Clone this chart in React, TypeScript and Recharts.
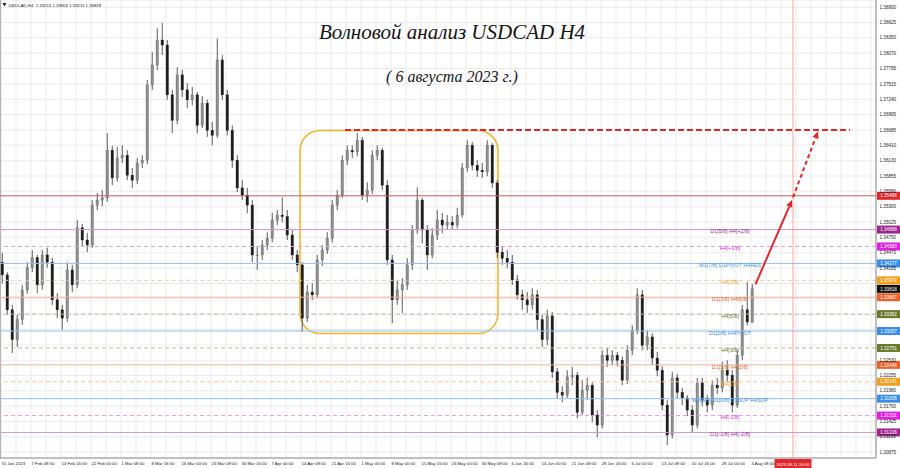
import React from "react";
import { ComposedChart, Bar, XAxis, YAxis, CartesianGrid, ReferenceLine, ReferenceArea } from "recharts";

// USDCAD H4 (one candle here ~ 5 px of the original)
const opens = [
  1.3430, 1.3407, 1.3344, 1.3290, 1.3326, 1.3380, 1.3420, 1.3438, 1.3389, 1.3443,
  1.3430, 1.3362, 1.3344, 1.3329, 1.3416, 1.3389, 1.3492, 1.3470, 1.3461, 1.3533,
  1.3542, 1.3546, 1.3632, 1.3582, 1.3618, 1.3623, 1.3587, 1.3578, 1.3609, 1.3614,
  1.3750, 1.3786, 1.3831, 1.3822, 1.3732, 1.3686, 1.3768, 1.3741, 1.3723, 1.3732,
  1.3677, 1.3717, 1.3668, 1.3659, 1.3795, 1.3732, 1.3668, 1.3614, 1.3564, 1.3551,
  1.3533, 1.3443, 1.3443, 1.3461, 1.3473, 1.3506, 1.3515, 1.3512, 1.3479, 1.3443,
  1.3425, 1.3329, 1.3376, 1.3371, 1.3434, 1.3452, 1.3473, 1.3533, 1.3551, 1.3614,
  1.3632, 1.3629, 1.3650, 1.3551, 1.3560, 1.3623, 1.3632, 1.3569, 1.3434, 1.3362,
  1.3380, 1.3389, 1.3425, 1.3488, 1.3542, 1.3488, 1.3443, 1.3479, 1.3506, 1.3497,
  1.3502, 1.3497, 1.3515, 1.3600, 1.3641, 1.3605, 1.3596, 1.3593, 1.3641, 1.3573,
  1.3448, 1.3437, 1.3430, 1.3398, 1.3371, 1.3362, 1.3353, 1.3371, 1.3326, 1.3290,
  1.3333, 1.3232, 1.3195, 1.3190, 1.3223, 1.3226, 1.3159, 1.3199, 1.3208, 1.3154,
  1.3136, 1.3262, 1.3253, 1.3262, 1.3253, 1.3217, 1.3271, 1.3307, 1.3371, 1.3280,
  1.3295, 1.3257, 1.3235, 1.3172, 1.3118, 1.3221, 1.3195, 1.3185, 1.3163, 1.3136,
  1.3212, 1.3181, 1.3172, 1.3208, 1.3203, 1.3235, 1.3226, 1.3172, 1.3262, 1.3344,
  1.33213,
];
const highs = [
  1.3447, 1.3412, 1.3353, 1.3335, 1.3389, 1.3430, 1.3452, 1.3443, 1.3452, 1.3456,
  1.3438, 1.3374, 1.3353, 1.3430, 1.3425, 1.3506, 1.3499, 1.3483, 1.3542, 1.3555,
  1.3560, 1.3663, 1.3640, 1.3638, 1.3641, 1.3632, 1.3600, 1.3618, 1.3623, 1.3759,
  1.3809, 1.3852, 1.3862, 1.3831, 1.3741, 1.3782, 1.3777, 1.3753, 1.3746, 1.3737,
  1.3730, 1.3723, 1.3683, 1.3834, 1.3804, 1.3741, 1.3677, 1.3623, 1.3578, 1.3564,
  1.3542, 1.3457, 1.3470, 1.3484, 1.3519, 1.3524, 1.3547, 1.3524, 1.3488, 1.3452,
  1.3430, 1.3389, 1.3392, 1.3443, 1.3461, 1.3484, 1.3542, 1.3560, 1.3623, 1.3641,
  1.3641, 1.3663, 1.3656, 1.3574, 1.3632, 1.3641, 1.3636, 1.3578, 1.3443, 1.3398,
  1.3401, 1.3437, 1.3497, 1.3565, 1.3546, 1.3497, 1.3491, 1.3524, 1.3519, 1.3515,
  1.3513, 1.3528, 1.3609, 1.3650, 1.3647, 1.3614, 1.3609, 1.3650, 1.3645, 1.3578,
  1.3459, 1.3452, 1.3443, 1.3407, 1.3380, 1.3376, 1.3383, 1.3380, 1.3335, 1.3344,
  1.3340, 1.3239, 1.3206, 1.3235, 1.3241, 1.3232, 1.3217, 1.3221, 1.3213, 1.3163,
  1.3271, 1.3275, 1.3271, 1.3268, 1.3260, 1.3280, 1.3316, 1.3383, 1.3380, 1.3307,
  1.3302, 1.3268, 1.3242, 1.3181, 1.3232, 1.3228, 1.3203, 1.3190, 1.3172, 1.3221,
  1.3221, 1.3190, 1.3217, 1.3221, 1.3250, 1.3253, 1.3235, 1.3271, 1.3353, 1.3394,
  1.33903,
];
const lows = [
  1.3392, 1.3335, 1.3266, 1.3277, 1.3317, 1.3373, 1.3412, 1.3374, 1.3380, 1.3420,
  1.3353, 1.3329, 1.3308, 1.3322, 1.3376, 1.3383, 1.3459, 1.3448, 1.3456, 1.3524,
  1.3531, 1.3539, 1.3569, 1.3575, 1.3609, 1.3578, 1.3564, 1.3571, 1.3600, 1.3607,
  1.3741, 1.3777, 1.3804, 1.3723, 1.3663, 1.3679, 1.3728, 1.3708, 1.3713, 1.3663,
  1.3672, 1.3656, 1.3641, 1.3654, 1.3723, 1.3659, 1.3600, 1.3556, 1.3542, 1.3518,
  1.3430, 1.3416, 1.3434, 1.3452, 1.3466, 1.3497, 1.3502, 1.3470, 1.3434, 1.3412,
  1.3304, 1.3322, 1.3362, 1.3365, 1.3423, 1.3445, 1.3466, 1.3524, 1.3546, 1.3605,
  1.3618, 1.3621, 1.3542, 1.3538, 1.3553, 1.3614, 1.3560, 1.3425, 1.3320, 1.3353,
  1.3338, 1.3380, 1.3416, 1.3481, 1.3464, 1.3416, 1.3437, 1.3470, 1.3482, 1.3488,
  1.3488, 1.3491, 1.3510, 1.3593, 1.3596, 1.3584, 1.3582, 1.3585, 1.3564, 1.3437,
  1.3425, 1.3419, 1.3389, 1.3362, 1.3344, 1.3338, 1.3344, 1.3308, 1.3277, 1.3280,
  1.3221, 1.3185, 1.3177, 1.3185, 1.3208, 1.3148, 1.3154, 1.3181, 1.3141, 1.3114,
  1.3130, 1.3241, 1.3244, 1.3242, 1.3208, 1.3210, 1.3262, 1.3300, 1.3271, 1.3271,
  1.3244, 1.3224, 1.3163, 1.3100, 1.3112, 1.3185, 1.3172, 1.3152, 1.3123, 1.3130,
  1.3170, 1.3159, 1.3163, 1.3192, 1.3195, 1.3214, 1.3159, 1.3167, 1.3253, 1.3316,
  1.33211,
];
const closes = [
  1.3407, 1.3344, 1.3290, 1.3326, 1.3380, 1.3420, 1.3438, 1.3389, 1.3443, 1.3430,
  1.3362, 1.3344, 1.3329, 1.3416, 1.3389, 1.3492, 1.3470, 1.3461, 1.3533, 1.3542,
  1.3546, 1.3632, 1.3582, 1.3618, 1.3623, 1.3587, 1.3578, 1.3609, 1.3614, 1.3750,
  1.3786, 1.3831, 1.3822, 1.3732, 1.3686, 1.3768, 1.3741, 1.3723, 1.3732, 1.3677,
  1.3717, 1.3668, 1.3659, 1.3795, 1.3732, 1.3668, 1.3614, 1.3564, 1.3551, 1.3533,
  1.3443, 1.3443, 1.3461, 1.3473, 1.3506, 1.3515, 1.3512, 1.3479, 1.3443, 1.3425,
  1.3329, 1.3376, 1.3371, 1.3434, 1.3452, 1.3473, 1.3533, 1.3551, 1.3614, 1.3632,
  1.3629, 1.3650, 1.3551, 1.3560, 1.3623, 1.3632, 1.3569, 1.3434, 1.3362, 1.3380,
  1.3389, 1.3425, 1.3488, 1.3542, 1.3488, 1.3443, 1.3479, 1.3506, 1.3497, 1.3502,
  1.3497, 1.3515, 1.3600, 1.3641, 1.3605, 1.3596, 1.3593, 1.3641, 1.3573, 1.3448,
  1.3437, 1.3430, 1.3398, 1.3371, 1.3362, 1.3353, 1.3371, 1.3326, 1.3290, 1.3333,
  1.3232, 1.3195, 1.3190, 1.3223, 1.3226, 1.3159, 1.3199, 1.3208, 1.3154, 1.3136,
  1.3262, 1.3253, 1.3262, 1.3253, 1.3217, 1.3271, 1.3307, 1.3371, 1.3280, 1.3295,
  1.3257, 1.3235, 1.3172, 1.3118, 1.3221, 1.3195, 1.3185, 1.3163, 1.3136, 1.3212,
  1.3181, 1.3172, 1.3208, 1.3203, 1.3235, 1.3226, 1.3172, 1.3262, 1.3344, 1.3322,
  1.33818,
];

const timeLabels = [
  "31 Jan 2023", "7 Feb 08:00", "14 Feb 16:00", "22 Feb 00:00", "1 Mar 08:00", "8 Mar 16:00",
  "16 Mar 00:00", "23 Mar 08:00", "30 Mar 16:00", "7 Apr 00:00", "14 Apr 08:00", "21 Apr 16:00",
  "1 May 00:00", "8 May 00:00", "15 May 16:00", "23 May 00:00", "30 May 08:00", "6 Jun 16:00",
  "14 Jun 00:00", "21 Jun 08:00", "28 Jun 16:00", "6 Jul 00:00", "13 Jul 08:00", "20 Jul 16:00",
  "28 Jul 00:00", "4 Aug 08:00",
];

const priceTicks = [
  1.389, 1.38625, 1.3835, 1.3807, 1.37795, 1.37515, 1.3724, 1.36965, 1.36685, 1.3641,
  1.3613, 1.35855, 1.3558, 1.353, 1.35025, 1.3475, 1.3447, 1.34195, 1.33915, 1.3364,
  1.3336, 1.33085, 1.32805, 1.3253, 1.32255, 1.3198, 1.317, 1.31425, 1.3115, 1.30875,
];

// murrey / pivot levels
const levelPrices = [
  1.35498, 1.34888, 1.34583, 1.34277, 1.33972, 1.33667, 1.33362,
  1.33057, 1.32751, 1.32446, 1.32141, 1.31836, 1.31531, 1.31226,
];
const levelNames = [
  "", "D1[5/8] H4[+2/8]", "H4[+1/8]", "W1[7/8] D1PIVOT H4RES", "H4[7/8]", "D1[3/8] H4[6/8]", "H4[5/8]",
  "D1[2/8] H4PIVOT", "H4[3/8]", "D1[1/8] H4[2/8]", "H4[1/8]", "W1[6/8] D1[0/8] D1SUP H4SUP", "H4[-1/8]", "D1[-1/8] H4[-2/8]",
];

const lastPrice = 1.33818;
const targetPrice = 1.36685;
const targetBars = [68.5, 169.5];
const forecastBars = [150.6, 157.9, 158.1, 163.1];
const forecastPrices = [1.339, 1.3542, 1.3547, 1.3666];
const rangeBars = [59.5, 99.1];
const rangePrices = [1.33012, 1.36676];
const futureBar = 158.1;
const futureLabel = "2023.08.11 20:00";

const candles = opens.map((open, i) => ({ i, open, high: highs[i], low: lows[i], close: closes[i] }));
const xTicks = Array.from({ length: 59 }, (_, m) => m * 3 - 0.3);

const RED = { badge: "#e3262b", line: "#c25c5c", text: "#c05050", dash: undefined };
const PURPLE = { badge: "#a0268f", line: "#cf98c7", text: "#a0309a", dash: undefined };
const MAGENTA = { badge: "#e020e0", line: "#e79ae7", text: "#d030d0", dash: "4 3" };
const BLUE = { badge: "#3a8ee6", line: "#93c0ee", text: "#3a8ee6", dash: undefined };
const GOLD = { badge: "#f0a01e", line: "#f3cc8e", text: "#e8a030", dash: "4 3" };
const ORANGE = { badge: "#e8622a", line: "#f2b197", text: "#e0682e", dash: undefined };
const OLIVE = { badge: "#6b7a2a", line: "#b5b89a", text: "#6b7a2a", dash: "4 3" };
const levelStyle = [RED, PURPLE, MAGENTA, BLUE, GOLD, ORANGE, OLIVE, BLUE, OLIVE, ORANGE, GOLD, BLUE, MAGENTA, PURPLE];

const FONT = "Liberation Sans, Arial, sans-serif";
const ARROW = "#e3262b";

function Candle(props: any) {
  const { x, y, width, height, payload } = props;
  if (x == null || !payload) return <g />;
  const top = Math.min(y, y + height);
  const h = Math.abs(height);
  const k = payload.high === payload.low ? 0 : h / (payload.high - payload.low);
  const cx = x + width / 2;
  const yo = top + (payload.high - payload.open) * k;
  const yc = top + (payload.high - payload.close) * k;
  const bull = payload.close >= payload.open;
  return (
    <g>
      <line x1={cx} x2={cx} y1={top} y2={top + h} stroke="#4a4a4a" strokeWidth={0.9} />
      <rect
        x={cx - 1.2}
        y={Math.min(yo, yc)}
        width={2.4}
        height={Math.max(Math.abs(yc - yo), 0.8)}
        fill={bull ? "#8e8e8e" : "#1c1c1c"}
        stroke={bull ? "#666" : "#1c1c1c"}
        strokeWidth={0.4}
      />
    </g>
  );
}

function XTick(props: any) {
  const { x, y, payload } = props;
  const m = Math.round((payload.value + 0.3) / 3);
  const label = m % 2 === 0 ? timeLabels[m / 2] : undefined;
  if (!label) return <g />;
  return (
    <text x={x + 0.5} y={y + 7} fontSize={4.3} fill="#1a1a1a" fontFamily={FONT}>
      {label}
    </text>
  );
}

function YTick(props: any) {
  const { x, y, payload } = props;
  const hidden = levelPrices.some((p) => Math.abs(p - payload.value) < 0.0006) || Math.abs(lastPrice - payload.value) < 0.0006;
  if (hidden) return <g />;
  return (
    <text x={x + 3.5} y={y + 1.6} fontSize={4.6} fill="#1a1a1a" fontFamily={FONT}>
      {payload.value.toFixed(5)}
    </text>
  );
}

const badge = (price: number, color: string) => (p: any) => {
  const vb = p.viewBox;
  const right = vb.x + vb.width;
  return (
    <g>
      <rect x={right + 1} y={vb.y - 4} width={23} height={8} fill={color} />
      <text x={right + 12.5} y={vb.y + 1.7} textAnchor="middle" fontSize={4.6} fill="#fff" fontFamily={FONT}>
        {price.toFixed(5)}
      </text>
    </g>
  );
};

const levelLabel = (idx: number) => (p: any) => {
  const vb = p.viewBox;
  const s = levelStyle[idx];
  return (
    <g>
      {levelNames[idx] ? (
        <text x={vb.x + vb.width * 0.8333} y={vb.y + 3.8} textAnchor="middle" fontSize={5.4} fill={s.text} fontFamily={FONT}>
          {levelNames[idx]}
        </text>
      ) : null}
      {badge(levelPrices[idx], s.badge)(p)}
    </g>
  );
};

const arrowShape = (dashed: boolean) => (p: any) => {
  const { x1, y1, x2, y2 } = p;
  const a = Math.atan2(y2 - y1, x2 - x1);
  const L = 7;
  const W = 3.2;
  const bx = x2 - L * Math.cos(a);
  const by = y2 - L * Math.sin(a);
  const pts = `${x2},${y2} ${bx - W * Math.sin(a)},${by + W * Math.cos(a)} ${bx + W * Math.sin(a)},${by - W * Math.cos(a)}`;
  return (
    <g>
      <line x1={x1} y1={y1} x2={bx} y2={by} stroke={ARROW} strokeWidth={2} strokeDasharray={dashed ? "4 3" : undefined} />
      <polygon points={pts} fill={ARROW} />
    </g>
  );
};

export default function App() {
  const header = `USDCAD,H4  ${opens[150].toFixed(5)} ${highs[150].toFixed(5)} ${lows[150].toFixed(5)} ${closes[150].toFixed(5)}`;
  return (
    <div style={{ position: "fixed", left: 0, top: 0, width: 900, height: 468, background: "#fff", overflow: "hidden" }}>
      <ComposedChart width={900} height={468} data={candles} margin={{ top: 0, right: 0, bottom: 0, left: 0 }}>
        <CartesianGrid stroke="#ebebeb" />
        <XAxis
          type="number"
          dataKey="i"
          domain={[-0.5, 174.7]}
          allowDataOverflow
          ticks={xTicks}
          interval={0}
          height={10}
          tickSize={0}
          tickMargin={0}
          tickLine={false}
          axisLine={{ stroke: "#8a8a8a" }}
          tick={(p: any) => <XTick {...p} />}
        />
        <YAxis
          orientation="right"
          type="number"
          domain={[1.30765, 1.39032]}
          allowDataOverflow
          ticks={priceTicks}
          interval={0}
          width={24}
          tickSize={0}
          tickMargin={0}
          tickLine={false}
          axisLine={{ stroke: "#8a8a8a" }}
          tick={(p: any) => <YTick {...p} />}
        />
        <ReferenceLine x={-0.5} stroke="#777" />
        <ReferenceLine
          x={futureBar}
          stroke="#f2ab92"
          label={(p: any) => (
            <g>
              <rect x={p.viewBox.x - 18.5} y={p.viewBox.y + p.viewBox.height + 1} width={37} height={9} fill="#e3262b" />
              <text x={p.viewBox.x} y={p.viewBox.y + p.viewBox.height + 7.5} textAnchor="middle" fontSize={4.3} fill="#fff" fontFamily={FONT}>
                {futureLabel}
              </text>
            </g>
          )}
        />
        {levelPrices.map((price, idx) => (
          <ReferenceLine
            key={price}
            y={price}
            stroke={levelStyle[idx].line}
            strokeDasharray={levelStyle[idx].dash}
            strokeWidth={1}
            label={levelLabel(idx)}
          />
        ))}
        <ReferenceLine y={lastPrice} stroke="transparent" label={badge(lastPrice, "#111")} />
        <ReferenceArea
          x1={rangeBars[0]}
          x2={rangeBars[1]}
          y1={rangePrices[0]}
          y2={rangePrices[1]}
          shape={(p: any) => (
            <rect x={p.x} y={p.y} width={p.width} height={p.height} rx={20} ry={20} fill="none" stroke="#f0b429" strokeWidth={1.5} />
          )}
        />
        <Bar dataKey={(d: any) => [d.low, d.high]} shape={(p: any) => <Candle {...p} />} barSize={5} isAnimationActive={false} />
        <ReferenceLine
          segment={[{ x: targetBars[0], y: targetPrice }, { x: targetBars[1], y: targetPrice }]}
          stroke="#e3262b"
          strokeWidth={2}
          strokeDasharray="6 3"
        />
        <ReferenceLine
          segment={[{ x: forecastBars[0], y: forecastPrices[0] }, { x: forecastBars[1], y: forecastPrices[1] }]}
          shape={arrowShape(false)}
        />
        <ReferenceLine
          segment={[{ x: forecastBars[2], y: forecastPrices[2] }, { x: forecastBars[3], y: forecastPrices[3] }]}
          shape={arrowShape(true)}
        />
      </ComposedChart>
      <svg width={900} height={468} style={{ position: "absolute", left: 0, top: 0, pointerEvents: "none" }}>
        <polygon points="2.5,3 6.5,3 4.5,6.5" fill="#222" />
        <text x={8.5} y={6.6} fontSize={4.3} fill="#1a1a1a" fontFamily={FONT} style={{ whiteSpace: "pre" }}>
          {header}
        </text>
        <text x={452} y={39} textAnchor="middle" fontSize={21} fontStyle="italic" fill="#151515" fontFamily="Liberation Serif, serif">
          Волновой анализ USDCAD H4
        </text>
        <text x={452} y={82} textAnchor="middle" fontSize={16} fontStyle="italic" fill="#151515" fontFamily="Liberation Serif, serif">
          ( 6 августа 2023 г.)
        </text>
      </svg>
    </div>
  );
}
